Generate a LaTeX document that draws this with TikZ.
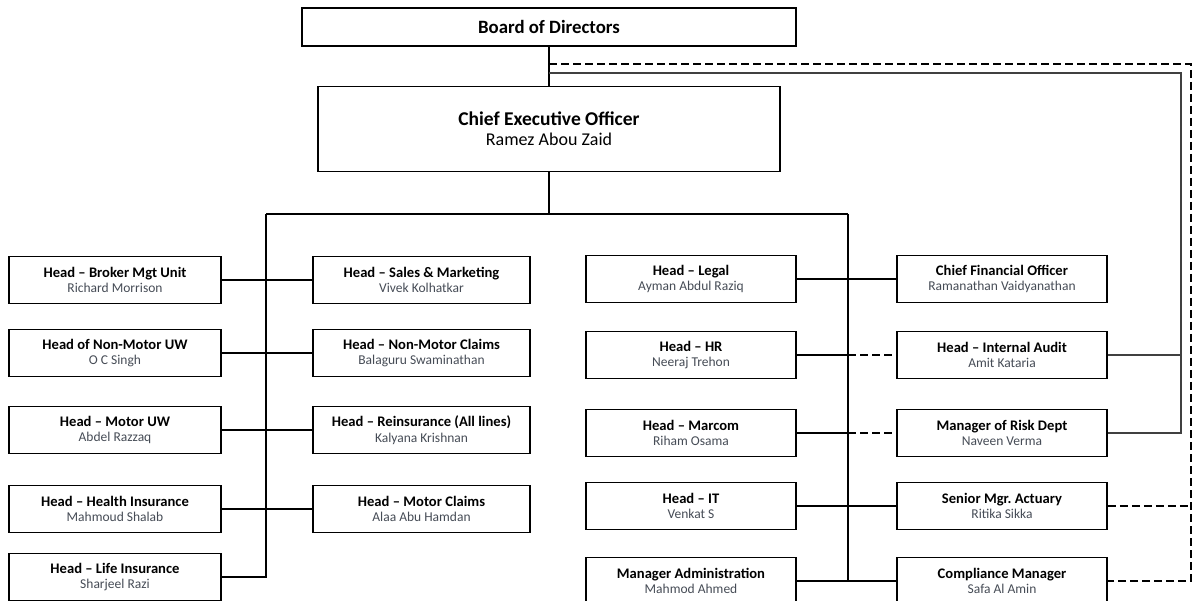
\documentclass[tikz,border=0pt]{standalone}
\usepackage{fontspec}
\setmainfont{Carlito}
\definecolor{namecol}{RGB}{70,76,86}
\newcommand\orgtxt[2]{{\fontsize{14.6}{15.5}\selectfont\bfseries #1}\\{\color{namecol}#2}}
\begin{document}
\begin{tikzpicture}[x=1pt,y=-1pt,
  box/.style={draw=black, line width=1.8pt, fill=white, minimum height=47pt, inner sep=0pt, align=center, font=\fontsize{13.5}{15.5}\selectfont},
  lcol/.style={box, minimum width=212pt},
  mcol/.style={box, minimum width=217pt},
  rcol/.style={box, minimum width=210pt},
  conn/.style={line width=1.6pt, black},
  thinconn/.style={line width=1.3pt, black!75},
  dconn/.style={line width=1.6pt, black, dash pattern=on 8pt off 4pt}]
\useasboundingbox (0,0) rectangle (1193,601);

% top
\node[box, minimum width=494pt, minimum height=38pt, font=\fontsize{18.8}{22}\selectfont\bfseries] (board) at (549,27) {Board of Directors};
\node[box, minimum width=462pt, minimum height=85pt, font=\fontsize{18}{20}\selectfont] (ceo) at (549,129) {{\fontsize{19.5}{20}\selectfont\bfseries Chief Executive Officer}\\Ramez Abou Zaid};

% left column
\node[lcol] (broker) at (115,280) {\orgtxt{Head – Broker Mgt Unit}{Richard Morrison}};
\node[lcol] (nmuw) at (115,353) {\orgtxt{Head of Non-Motor UW}{O C Singh}};
\node[lcol] (muw) at (115,430) {\orgtxt{Head – Motor UW}{Abdel Razzaq}};
\node[lcol] (health) at (115,509) {\orgtxt{Head – Health Insurance}{Mahmoud Shalab}};
\node[lcol] (life) at (115,577) {\orgtxt{Head – Life Insurance}{Sharjeel Razi}};

% second column
\node[mcol] (sales) at (421.5,280) {\orgtxt{Head – Sales \& Marketing}{Vivek Kolhatkar}};
\node[mcol] (nmc) at (421.5,353) {\orgtxt{Head – Non-Motor Claims}{Balaguru Swaminathan}};
\node[mcol] (reins) at (421.5,430) {\orgtxt{Head – Reinsurance (All lines)}{Kalyana Krishnan}};
\node[mcol] (mclaims) at (421.5,509) {\orgtxt{Head – Motor Claims}{Alaa Abu Hamdan}};

% third column
\node[rcol] (legal) at (691,279) {\orgtxt{Head – Legal}{Ayman Abdul Raziq}};
\node[rcol] (hr) at (691,355) {\orgtxt{Head – HR}{Neeraj Trehon}};
\node[rcol] (marcom) at (691,433) {\orgtxt{Head – Marcom}{Riham Osama}};
\node[rcol] (it) at (691,506) {\orgtxt{Head – IT}{Venkat S}};
\node[rcol] (admin) at (691,581) {\orgtxt{Manager Administration}{Mahmod Ahmed}};

% fourth column
\node[rcol] (cfo) at (1002,279) {\orgtxt{Chief Financial Officer}{Ramanathan Vaidyanathan}};
\node[rcol] (ia) at (1002,355) {\orgtxt{Head – Internal Audit}{Amit Kataria}};
\node[rcol] (risk) at (1002,433) {\orgtxt{Manager of Risk Dept}{Naveen Verma}};
\node[rcol] (act) at (1002,506) {\orgtxt{Senior Mgr.\ Actuary}{Ritika Sikka}};
\node[rcol] (comp) at (1002,581) {\orgtxt{Compliance Manager}{Safa Al Amin}};

% junction coordinates
\coordinate (jt) at (549,214);
\coordinate (jl) at (266,214);
\coordinate (jr) at (848,214);
\coordinate (d0) at (549,64);
\coordinate (d1) at (1191,64);
\coordinate (s0) at (549,73);
\coordinate (s1) at (1181,73);

% main hierarchy
\draw[conn] (board.south) -- (ceo.north);
\draw[conn] (ceo.south) -- (jt);
\draw[conn] (jl) -- (jr);
\draw[conn] (jl) |- (life.east);
\draw[conn] (jr) |- (admin.east);

\draw[conn] (broker.east) -- (sales.west);
\draw[conn] (nmuw.east) -- (nmc.west);
\draw[conn] (muw.east) -- (reins.west);
\draw[conn] (health.east) -- (mclaims.west);

\draw[conn] (legal.east) -- (cfo.west);
\draw[conn] (hr.east) -- (hr.east -| jr);
\draw[dconn] (hr.east -| jr) -- (ia.west);
\draw[conn] (marcom.east) -- (marcom.east -| jr);
\draw[dconn] (marcom.east -| jr) -- (risk.west);
\draw[conn] (it.east) -- (act.west);
\draw[conn] (admin.east) -- (comp.west);

% board lines on the right
\draw[dconn] (d0) -- (d1) |- (comp.east);
\draw[dconn] (act.east) -- (act.east -| d1);
\draw[thinconn] (s0) -- (s1) |- (risk.east);
\draw[thinconn] (ia.east) -- (ia.east -| s1);
\end{tikzpicture}
\end{document}
